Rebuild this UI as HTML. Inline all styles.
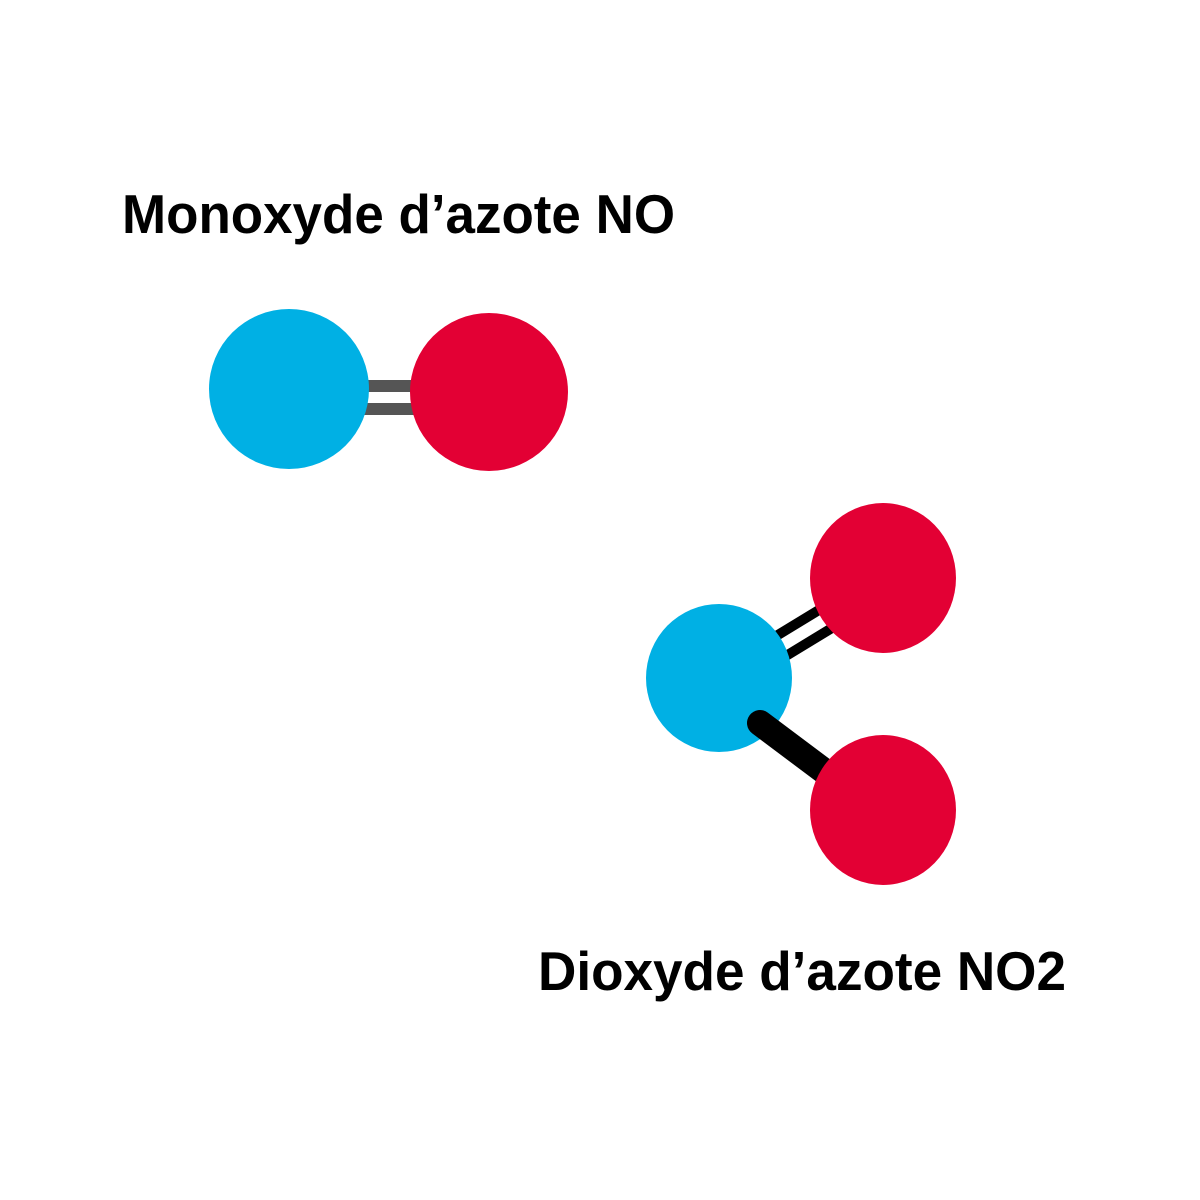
<!DOCTYPE html>
<html><head><meta charset="utf-8"><style>html,body{margin:0;padding:0;background:#fff}svg{display:block}</style></head>
<body>
<svg width="1200" height="1200" viewBox="0 0 1200 1200" xmlns="http://www.w3.org/2000/svg">
<rect width="1200" height="1200" fill="#fff"/>
<text x="122" y="233" font-family="Liberation Sans, sans-serif" font-weight="bold" font-size="55" textLength="553" lengthAdjust="spacingAndGlyphs" fill="#000">Monoxyde d’azote NO</text>
<text x="538" y="990" font-family="Liberation Sans, sans-serif" font-weight="bold" font-size="55" textLength="528" lengthAdjust="spacingAndGlyphs" fill="#000">Dioxyde d’azote NO2</text>
<rect x="340" y="380" width="100" height="12" fill="#555"/>
<rect x="340" y="403" width="100" height="12" fill="#555"/>
<ellipse cx="289" cy="389" rx="80" ry="80" fill="#00b0e4"/>
<ellipse cx="489" cy="392" rx="79" ry="79" fill="#e30034"/>
<g stroke="#000" stroke-width="10">
<line x1="745" y1="655" x2="860" y2="585"/>
<line x1="758" y1="673" x2="873" y2="603"/>
</g>
<ellipse cx="719" cy="678" rx="73" ry="74" fill="#00b0e4"/>
<line x1="760" y1="723" x2="840" y2="783" stroke="#000" stroke-width="26" stroke-linecap="round"/>
<ellipse cx="883" cy="578" rx="73" ry="75" fill="#e30034"/>
<ellipse cx="883" cy="810" rx="73" ry="75" fill="#e30034"/>
</svg>
</body></html>
